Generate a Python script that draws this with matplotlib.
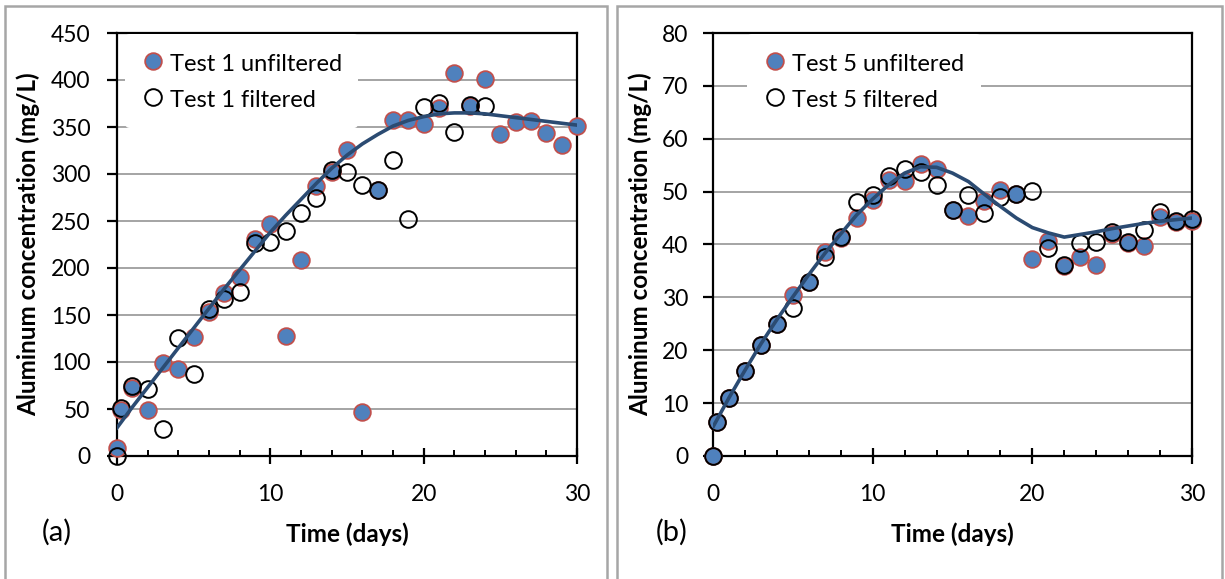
import numpy as np
from matplotlib import pyplot as plt
from matplotlib.patches import Rectangle

plt.rcParams['font.family'] = ['Lato', 'DejaVu Sans']

# Test 1 (panel a)
t1_unf_days = [0, 0.25, 1, 2, 3, 4, 5, 6, 7, 8, 9, 10, 11, 12, 13, 14, 15, 16, 17, 18,
               19, 20, 21, 22, 23, 24, 25, 26, 27, 28, 29, 30]
t1_unf = [8, 49, 72, 49, 99, 93, 127, 153, 173, 190, 231, 247, 128, 208, 287, 302, 326, 47,
          283, 357, 357, 353, 370, 407, 372, 401, 343, 355, 356, 344, 331, 351]
t1_fil_days = [0, 0.25, 1, 2, 3, 4, 5, 6, 7, 8, 9, 10, 11, 12, 13, 14, 15, 16, 17, 18,
               19, 20, 21, 22, 23, 24]
t1_fil = [0, 51, 74, 71, 29, 126, 87, 156, 167, 175, 227, 228, 239, 259, 275, 304, 302, 288,
          283, 315, 252, 371, 376, 345, 373, 372]
t1_fit_days = list(range(0, 31))
t1_fit = [30, 52, 73, 94, 115, 136, 157, 178, 198, 218, 238, 256, 273, 290, 306, 320, 332,
          342, 351, 357, 361, 364, 365, 365, 364, 362, 360, 358, 356, 354, 352]

# Test 5 (panel b)
t5_unf_days = [0, 0.25, 1, 2, 3, 4, 5, 6, 7, 8, 9, 10, 11, 12, 13, 14, 15, 16, 17, 18,
               19, 20, 21, 22, 23, 24, 25, 26, 27, 28, 29, 30]
t5_unf = [0, 6.5, 11, 16, 21, 25, 30.5, 33, 38.6, 41.3, 45, 48.4, 52.2, 52, 55.2, 54.3, 46.6,
          45.4, 48.2, 50.4, 49.5, 37.3, 40.7, 36, 37.7, 36.2, 42, 40.3, 39.8, 45.2, 44.2, 44.4]
t5_fil_days = [0, 0.25, 1, 2, 3, 4, 5, 6, 7, 8, 9, 10, 11, 12, 13, 14, 15, 16, 17, 18,
               19, 20, 21, 22, 23, 24, 25, 26, 27, 28, 29, 30]
t5_fil = [0, 6.5, 11, 16, 21, 25, 27.9, 33, 37.6, 41.5, 48.1, 49.4, 52.9, 54.3, 53.8, 51.2,
          46.6, 49.4, 46, 48.9, 49.6, 50.1, 39.4, 36.1, 40.3, 40.5, 42.4, 40.5, 42.8, 46.1,
          44.4, 44.8]
t5_fit_days = list(range(0, 31))
t5_fit = [5.5, 11, 16.2, 21.2, 25.8, 30.1, 34.3, 38.3, 42, 45.6, 48.6, 51.3, 53.5, 54.7, 54.6,
          53.5, 51.9, 49.5, 47.2, 45, 43.2, 42.2, 41.4, 41.9, 42.4, 43, 43.5, 44, 44.4, 44.7, 45]

W, H = 1225, 579
fig = plt.figure(figsize=(W / 100, H / 100), dpi=100)

# grey frames around both panels
for fx0, fx1 in [(5, 607), (617, 1222)]:
    fig.add_artist(Rectangle((fx0 / W, -0.05), (fx1 - fx0) / W, 1.05 - 6 / H,
                             transform=fig.transFigure, fill=False,
                             edgecolor='#a6a6a6', linewidth=1.8))


def make_panel(rect, days_u, vals_u, days_f, vals_f, fit_d, fit_v, ymax, ystep,
               lab_u, lab_f, letter, letter_x, ylab_x, ytick_pad, leg_x):
    ax = fig.add_axes(rect)
    ax.set_xlim(0, 30)
    ax.set_ylim(0, ymax)
    ax.set_xticks([0, 10, 20, 30])
    ax.set_xticks(np.arange(2, 30, 2), minor=True)
    ax.set_yticks(np.arange(0, ymax + ystep, ystep))
    ax.grid(True, axis='y', color='#8c8c8c', linewidth=1.1)
    ax.set_axisbelow(True)
    for s in ax.spines.values():
        s.set_linewidth(1.6)
        s.set_color('black')
    ax.tick_params(axis='x', which='major', direction='inout', length=11, width=1.6,
                   labelsize=16.5, pad=15)
    ax.tick_params(axis='x', which='minor', direction='in', length=4, width=1.4)
    ax.tick_params(axis='y', which='major', direction='out', length=7, width=1.6,
                   labelsize=16.5, pad=ytick_pad)
    ax.plot(days_u, vals_u, 'o', ms=12, mfc='#4F81BD', mec='#C0504D', mew=1.3,
            clip_on=False, label=lab_u, zorder=3)
    ax.plot(days_f, vals_f, 'o', ms=12, mfc='none', mec='black', mew=1.4,
            clip_on=False, label=lab_f, zorder=3)
    ax.plot(fit_d, fit_v, '-', color='#2B4B72', lw=2.6, zorder=4)
    leg = ax.legend(loc='upper left', bbox_to_anchor=(leg_x, 0.997), fontsize=17,
                    frameon=True, facecolor='white', edgecolor='none', framealpha=1,
                    borderpad=0.7, borderaxespad=0, handlelength=1.0, handleheight=1.2,
                    handletextpad=0.2, labelspacing=0.52)
    leg.set_zorder(5)
    ax.set_xlabel('Time (days)', fontsize=17.5, fontweight='bold')
    ax.xaxis.set_label_coords(0.5, -0.184)
    ax.xaxis.label.set_va('center')
    ax.set_ylabel('Aluminum concentration (mg/L)', fontsize=17.5, fontweight='bold')
    ax.yaxis.set_label_coords(ylab_x, 0.5)
    ax.yaxis.label.set_va('center')
    fig.text(letter_x / W, 1 - 532 / H, letter, fontsize=21, ha='center', va='center')
    return ax


make_panel([117 / W, 123 / H, 460 / W, 423 / H], t1_unf_days, t1_unf, t1_fil_days, t1_fil,
           t1_fit_days, t1_fit, 450, 50, 'Test 1 unfiltered', 'Test 1 filtered',
           '(a)', 57, -0.193, 12, 0.017)
make_panel([713 / W, 123 / H, 479 / W, 423 / H], t5_unf_days, t5_unf, t5_fil_days, t5_fil,
           t5_fit_days, t5_fit, 80, 10, 'Test 5 unfiltered', 'Test 5 filtered',
           '(b)', 672, -0.152, 11, 0.071)

fig.savefig('out.png', dpi=100)
plt.close()
